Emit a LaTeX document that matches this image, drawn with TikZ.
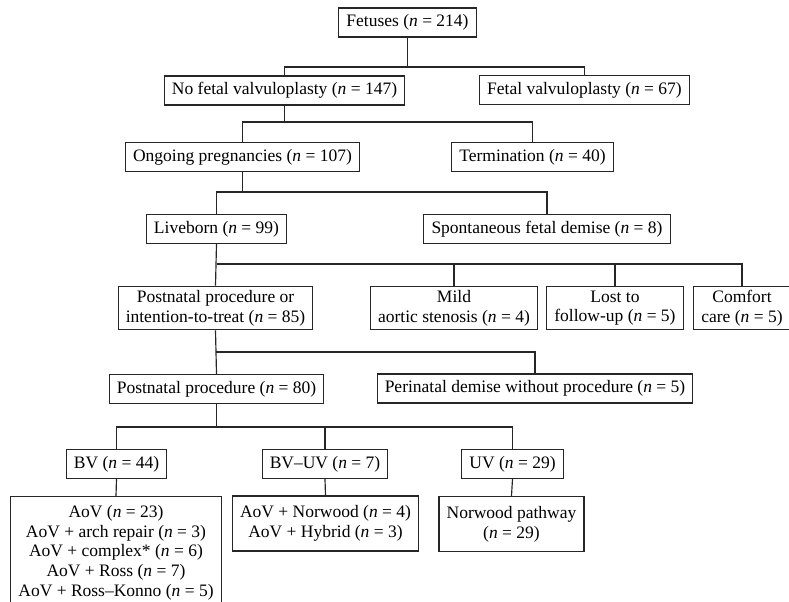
\documentclass[tikz,border=0pt]{standalone}
\usepackage{fontspec}
\setmainfont{Liberation Serif}
\usetikzlibrary{positioning,calc}
\tikzset{
    box/.style={rectangle, draw=black!85, line width=0.7pt, align=center,
        inner xsep=4.6pt, inner ysep=2.4pt, minimum height=17.4pt,
        font=\fontsize{10.5}{11.8}\selectfont},
    link/.style={draw=black!85, line width=0.7pt}
}
\newcommand{\nn}[1]{(\textit{n} = #1)}

\begin{document}
\begin{tikzpicture}[x=0.6pt,y=-0.6pt]
    \useasboundingbox (0,0) rectangle (789,601);

    \node[box] (fet) at (407.5,22.5) {Fetuses \nn{214}};
    \node[box] (nofv) at (284.5,90.5) {No fetal valvuloplasty \nn{147}};
    \node[box] (fv) at (584.5,90) {Fetal valvuloplasty \nn{67}};
    \node[box] (ong) at (242.5,157) {Ongoing pregnancies \nn{107}};
    \node[box] (term) at (532.5,157) {Termination \nn{40}};
    \node[box] (live) at (216.5,229) {Liveborn \nn{99}};
    \node[box] (spont) at (547,229) {Spontaneous fetal demise \nn{8}};
    \node[box] (pitt) at (215.5,308) {Postnatal procedure or\\intention-to-treat \nn{85}};
    \node[box] (mild) at (454,308) {Mild\\aortic stenosis \nn{4}};
    \node[box] (lost) at (615,308) {Lost to\\follow-up \nn{5}};
    \node[box] (comf) at (742,308) {Comfort\\care \nn{5}};
    \node[box] (pproc) at (216.5,389) {Postnatal procedure \nn{80}};
    \node[box] (peri) at (535,388.5) {Perinatal demise without procedure \nn{5}};
    \node[box] (bv) at (116.5,464) {BV \nn{44}};
    \node[box] (bvuv) at (325,464) {BV--UV \nn{7}};
    \node[box] (uv) at (512.5,464) {UV \nn{29}};
    \node[box, anchor=north, inner ysep=5.2pt] (aov) at (116,496) {AoV \nn{23}\\AoV + arch repair \nn{3}\\AoV + complex* \nn{6}\\AoV + Ross \nn{7}\\AoV + Ross--Konno \nn{5}};
    \node[box, minimum height=33pt] (bvsub) at (325.5,523.5) {AoV + Norwood \nn{4}\\AoV + Hybrid \nn{3}};
    \node[box, minimum height=33pt] (nor) at (511.5,524) {Norwood pathway\\\nn{29}};

    \coordinate (b1) at (0,67);
    \coordinate (b2) at (0,122);
    \coordinate (b3) at (0,192);
    \coordinate (b4) at (0,264);
    \coordinate (b5) at (0,352);
    \coordinate (b6) at (0,427);

    \draw[link] (fet.south) -- (fet.south |- b1);
    \draw[link] (nofv.north) |- (fv.north |- b1) -- (fv.north);
    \draw[link] (nofv.south) -- (nofv.south |- b2);
    \draw[link] (ong.north) |- (term.north |- b2) -- (term.north);
    \draw[link] (ong.south) -- (ong.south |- b3);
    \draw[link] (live.north) |- (spont.north |- b3) -- (spont.north);
    \draw[link] (live.south) -- (pitt.north);
    \draw[link] (live.south |- b4) -| (comf.north);
    \draw[link] (mild.north) -- (mild.north |- b4);
    \draw[link] (lost.north) -- (lost.north |- b4);
    \draw[link] (pitt.south) -- (pproc.north);
    \draw[link] (pitt.south |- b5) -| (peri.north);
    \draw[link] (pproc.south) -- (pproc.south |- b6);
    \draw[link] (bv.north) |- (uv.north |- b6) -- (uv.north);
    \draw[link] (bvuv.north) -- (bvuv.north |- b6);
    \draw[link] (bv.south) -- (aov.north);
    \draw[link] (bvuv.south) -- (bvsub.north);
    \draw[link] (uv.south) -- (nor.north);

\end{tikzpicture}
\end{document}
